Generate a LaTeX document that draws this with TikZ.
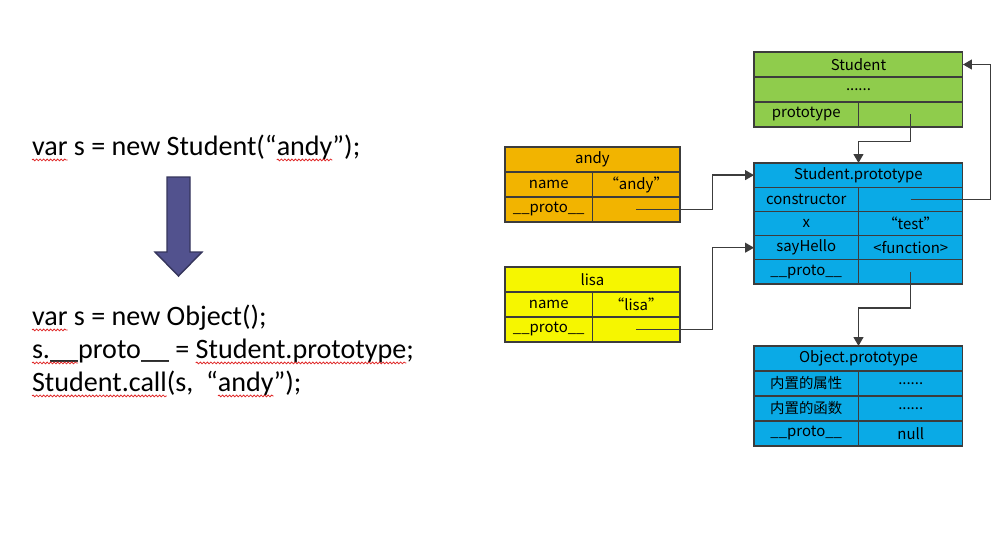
\documentclass[tikz,border=0pt]{standalone}
\usepackage{fontspec}
\setmainfont{Carlito}
\newfontfamily\cjk{Noto Sans CJK SC}
\usetikzlibrary{arrows.meta,decorations.pathmorphing}
\definecolor{Cg}{HTML}{8FCC4C}
\definecolor{Cb}{HTML}{0AAAE6}
\definecolor{Co}{HTML}{F2B400}
\definecolor{Cy}{HTML}{F6F600}
\definecolor{Cl}{HTML}{3C3C3C}
\definecolor{Ca}{HTML}{52528E}
\definecolor{Cr}{HTML}{E02828}

\newcommand\codefont{\fontsize{16}{19}\selectfont}
\newcommand\boxfont{\cjk\fontsize{8.5}{10}\selectfont}
\newcommand\cjktext{\fontsize{8.2}{10}\selectfont}

\begin{document}
\begin{tikzpicture}[x=0.02cm, y=-0.02cm,
	cell/.style={draw=Cl, line width=0.6pt, inner sep=0pt, outer sep=0pt,
		anchor=north west, minimum height=0.5cm, font=\boxfont},
	wide/.style={cell, minimum width=4.18cm},
	half/.style={cell, minimum width=2.09cm},
	objwide/.style={cell, minimum width=3.5cm},
	objhalf/.style={cell, minimum width=1.75cm},
	sprow/.style={minimum height=0.484cm},
	link/.style={draw=Cl, line width=0.8pt, -{Triangle[length=5pt,width=5.5pt]}},
	code/.style={anchor=base west, inner sep=0pt, outer sep=0pt, font=\codefont},
	spellwave/.style={draw=Cr, line width=0.45pt, decorate,
		decoration={snake, amplitude=0.5pt, segment length=2pt}}]
	
	\useasboundingbox (0,0) rectangle (1007,542);
	\fill[white] (0,0) rectangle (1007,542);
	
	%% ── code on the left, one node per marked word ───────────────────
	\node[code] (a-var) at (32,155) {var};
	\node[code] (a-mid) at (a-var.base east) {\ s = new Student(“};
	\node[code] (a-andy) at (a-mid.base east) {andy};
	\node[code] (a-end) at (a-andy.base east) {”);};
	
	\node[code] (b-var) at (32,325) {var};
	\node[code] (b-end) at (b-var.base east) {\ s = new Object();};
	
	\node[code] (c-s) at (32,358) {s.\_\_};
	\node[code] (c-mid) at (c-s.base east) {proto\_\_ =\mbox{\ }};
	\node[code] (c-stp) at (c-mid.base east) {Student.prototype};
	\node[code] (c-end) at (c-stp.base east) {;};
	
	\node[code] (d-call) at (32,391) {Student.call};
	\node[code] (d-mid) at (d-call.base east) {(s,~ “};
	\node[code] (d-andy) at (d-mid.base east) {andy};
	\node[code] (d-end) at (d-andy.base east) {”);};
	
	%% red spell-check waves
	\foreach \w in {a-var, a-andy, b-var, c-s, c-stp, d-call, d-andy}
	\draw[spellwave] ([yshift=-2.8pt]\w.base west) -- ([yshift=-2.8pt]\w.base east);
	
	%% fat arrow between the two forms
	\draw[draw=Ca!65!black, fill=Ca, line width=0.8pt]
	(167,177) -- (190,177) -- (190,252) -- (202,252) -- (178.5,276)
	-- (155,252) -- (167,252) -- cycle;
	
	%% ── Student ──────────────────────────────────────────────────────
	\node[wide, fill=Cg] (st-head) at (754,52) {Student};
	\node[wide, fill=Cg] (st-dots) at (st-head.south west) {......};
	\node[half, fill=Cg] (st-proto) at (st-dots.south west) {prototype};
	\node[half, fill=Cg] (st-val) at (st-proto.north east) {};
	
	%% ── Student.prototype ────────────────────────────────────────────
	\node[wide, sprow, fill=Cb] (sp-head) at (754,163) {Student.prototype};
	\node[half, sprow, fill=Cb] (sp-ctor) at (sp-head.south west) {constructor};
	\node[half, sprow, fill=Cb] (sp-ctor-val) at (sp-ctor.north east) {};
	\node[half, sprow, fill=Cb] (sp-x) at (sp-ctor.south west) {x};
	\node[half, sprow, fill=Cb] (sp-x-val) at (sp-x.north east) {“test”};
	\node[half, sprow, fill=Cb] (sp-hello) at (sp-x.south west) {sayHello};
	\node[half, sprow, fill=Cb] (sp-hello-val) at (sp-hello.north east) {<function>};
	\node[half, sprow, fill=Cb] (sp-proto) at (sp-hello.south west) {\_\_proto\_\_};
	\node[half, sprow, fill=Cb] (sp-proto-val) at (sp-proto.north east) {};
	
	%% ── Object.prototype ─────────────────────────────────────────────
	\node[wide, fill=Cb] (op-head) at (754,346) {Object.prototype};
	\node[half, fill=Cb] (op-attr) at (op-head.south west) {\cjktext 内置的属性};
	\node[half, fill=Cb] (op-attr-val) at (op-attr.north east) {......};
	\node[half, fill=Cb] (op-func) at (op-attr.south west) {\cjktext 内置的函数};
	\node[half, fill=Cb] (op-func-val) at (op-func.north east) {......};
	\node[half, fill=Cb] (op-proto) at (op-func.south west) {\_\_proto\_\_};
	\node[half, fill=Cb] (op-proto-val) at (op-proto.north east) {null};
	
	%% ── instances andy / lisa ────────────────────────────────────────
	\node[objwide, fill=Co] (andy-head) at (505,147) {andy};
	\node[objhalf, fill=Co] (andy-name) at (andy-head.south west) {name};
	\node[objhalf, fill=Co] (andy-name-val) at (andy-name.north east) {“andy”};
	\node[objhalf, fill=Co] (andy-proto) at (andy-name.south west) {\_\_proto\_\_};
	\node[objhalf, fill=Co] (andy-proto-val) at (andy-proto.north east) {};
	
	\node[objwide, fill=Cy] (lisa-head) at (505,267) {lisa};
	\node[objhalf, fill=Cy] (lisa-name) at (lisa-head.south west) {name};
	\node[objhalf, fill=Cy] (lisa-name-val) at (lisa-name.north east) {“lisa”};
	\node[objhalf, fill=Cy] (lisa-proto) at (lisa-name.south west) {\_\_proto\_\_};
	\node[objhalf, fill=Cy] (lisa-proto-val) at (lisa-proto.north east) {};
	
	%% ── links ────────────────────────────────────────────────────────
	\draw[link] (st-val.center) -- ++(0,27) -| (sp-head.north);
	\draw[link] (sp-ctor-val.center) -- ++(80,0) |- (st-head.east);
	\draw[link] (andy-proto-val.center) -- ++(76,0) |- (sp-head.west);
	\draw[link] (lisa-proto-val.center) -- ++(76,0) |- (sp-hello.west);
	\draw[link] (sp-proto-val.center) -- ++(0,36) -| (op-head.north);
	
\end{tikzpicture}
\end{document}
